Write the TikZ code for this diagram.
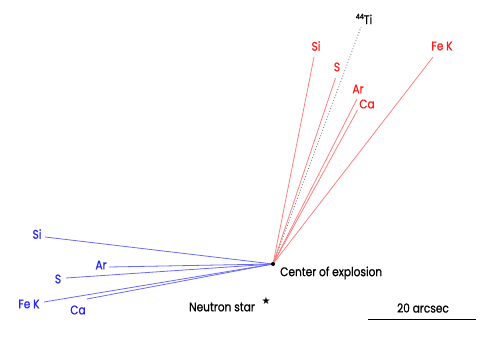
\documentclass[tikz,border=0pt]{standalone}
\usepackage{fontspec}
\setmainfont{Poppins}[FakeStretch=0.85,FakeBold=0.7]
\newfontfamily\symfont{DejaVu Sans}
\usetikzlibrary{calc}
\definecolor{rline}{HTML}{FF8080}
\definecolor{rtext}{HTML}{FF1A1A}
\definecolor{bline}{HTML}{6A6AF8}
\definecolor{btext}{HTML}{2424F0}
\tikzset{
  lbl/.style={inner sep=0pt, font=\fontsize{12.5}{14}\selectfont},
  rlbl/.style={lbl, text=rtext},
  blbl/.style={lbl, text=btext},
  rray/.style={draw=rline, line width=0.8pt},
  bray/.style={draw=bline, line width=0.8pt},
  tlbl/.style={lbl, text=black},
}
\begin{document}
\begin{tikzpicture}[x=1pt,y=-1pt]
\useasboundingbox (0,0) rectangle (491,347);
\coordinate (c) at (273,264);
% red ends
\coordinate (rsi) at (314,57);
\coordinate (rs) at (335.5,78);
\coordinate (rti) at (361,27);
\coordinate (rar) at (357,99);
\coordinate (rca) at (357.5,110);
\coordinate (rfe) at (433,57);
% blue ends
\coordinate (bsi) at (45,237);
\coordinate (bar) at (109,267);
\coordinate (bs) at (66,278);
\coordinate (bfe) at (44,302);
\coordinate (bca) at (87,299);
\draw[rray] (c) -- (rsi);
\draw[rray] (c) -- (rs);
\draw[rray] (c) -- (rar);
\draw[rray] (c) -- (rca);
\draw[rray] (c) -- (rfe);
\draw[draw=gray, line width=0.9pt, dotted] (c) -- (rti);
\draw[bray] (c) -- (bsi);
\draw[bray] (c) -- (bar);
\draw[bray] (c) -- (bs);
\draw[bray] (c) -- (bfe);
\draw[bray] (c) -- (bca);
\fill (c) circle (2pt);
% labels
\node[rlbl] (lrsi) at (316,46) {Si};
\node[rlbl] (lrs) at (337,67) {S};
\node[rlbl] (lrar) at (358,89) {Ar};
\node[rlbl] (lrca) at (367,104) {Ca};
\node[rlbl] (lrfe) at (442,46) {Fe K};
\node[tlbl] (lti) at (364,19) {\raisebox{0.4em}{\fontsize{7.5}{8}\selectfont 44}Ti};
\node[blbl] (lbsi) at (37,234) {Si};
\node[blbl] (lbar) at (101,265) {Ar};
\node[blbl] (lbs) at (58,279) {S};
\node[blbl] (lbfe) at (29,304) {Fe K};
\node[blbl] (lbca) at (78,310) {Ca};
\node[tlbl, anchor=west] (lc) at (280,273) {Center of explosion};
\node[tlbl] (lns) at (222,307) {Neutron star};
\node[inner sep=0pt, font=\symfont\fontsize{10}{11}\selectfont] (star) at (266,301) {★};
\node[tlbl] (lsc) at (423,308) {20 arcsec};
\coordinate (sa) at (368,320);
\coordinate (sb) at (476,320);
\draw[line width=1pt] (sa) -- (sb);
\end{tikzpicture}
\end{document}
